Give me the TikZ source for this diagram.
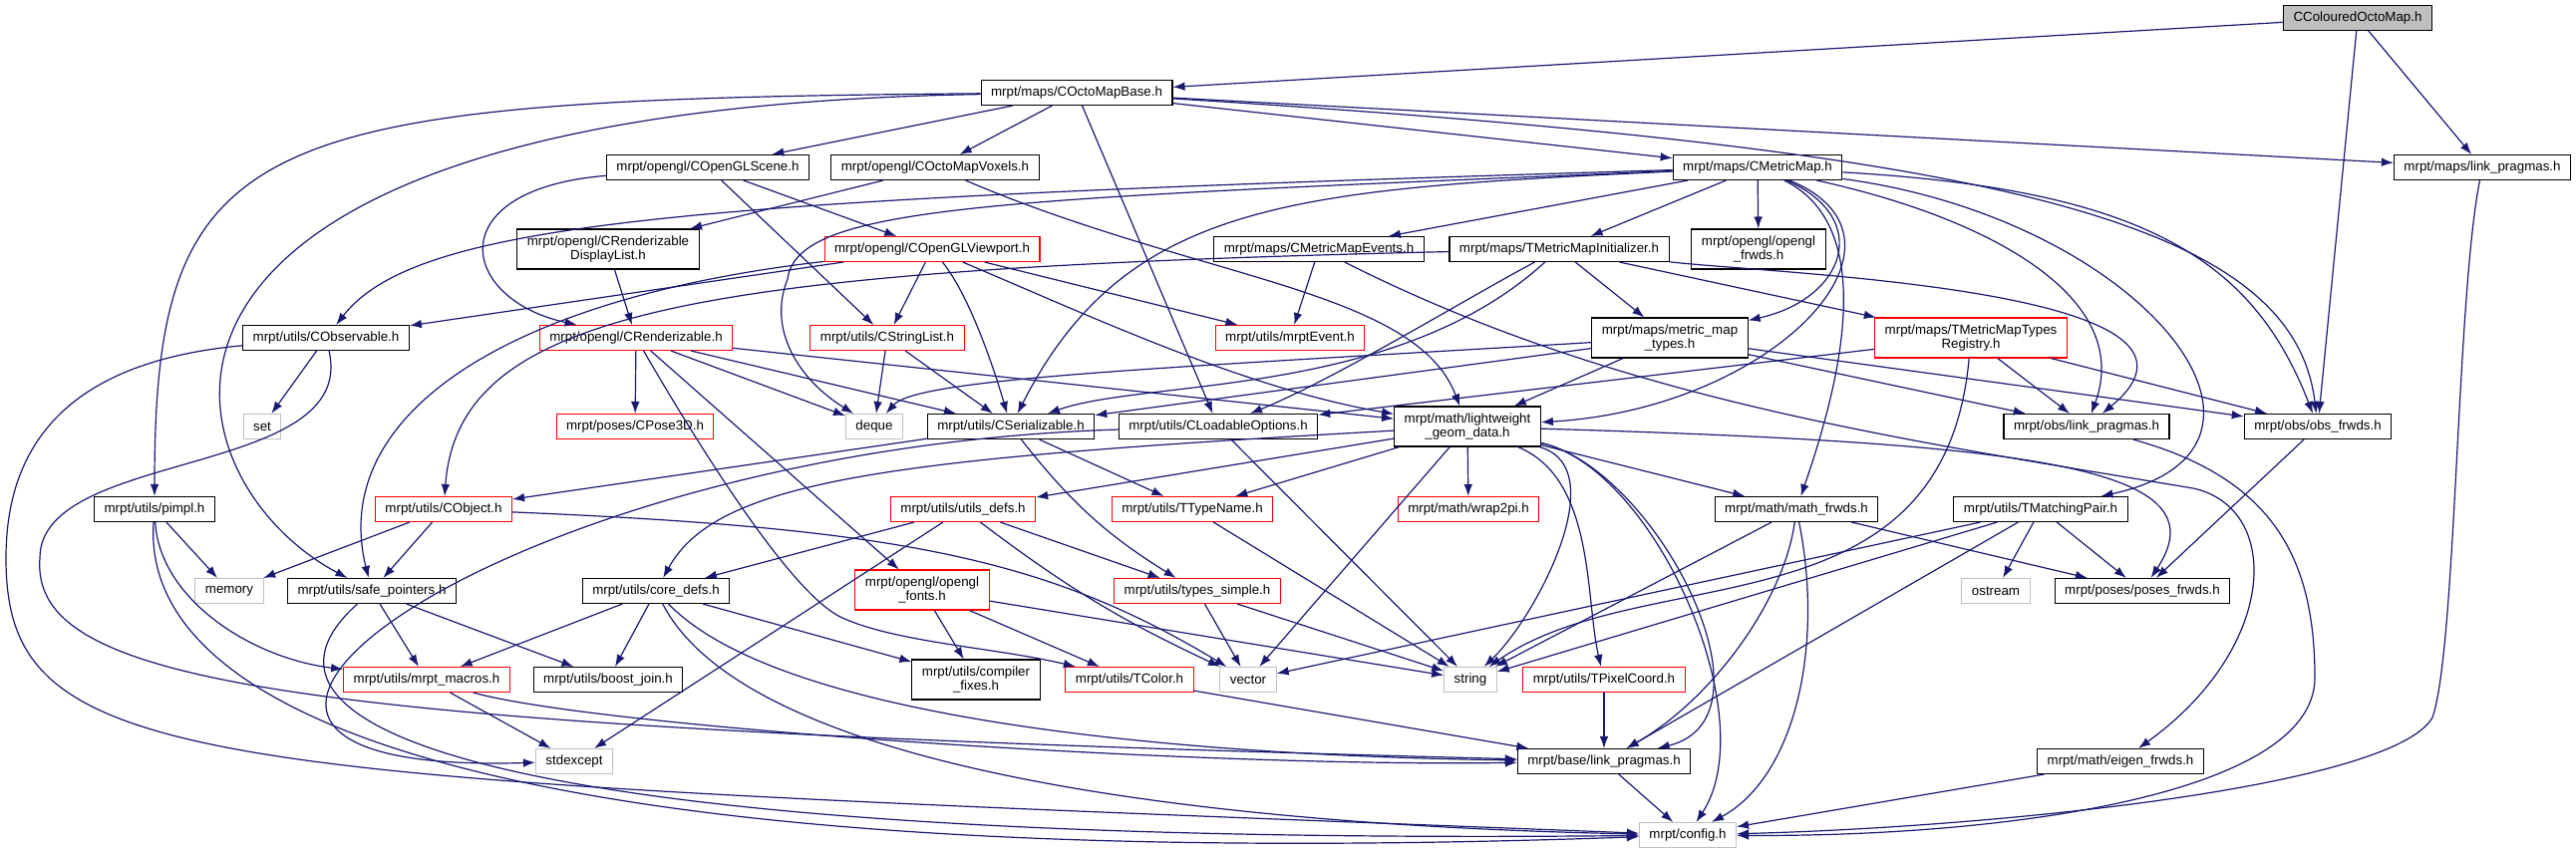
\documentclass[tikz,border=0pt]{standalone}
\usepackage{fontspec}
\setmainfont{Liberation Sans}
\usepackage{tikz}
\usetikzlibrary{arrows.meta,shapes}
\definecolor{edgeblue}{HTML}{191970}
\definecolor{sysgray}{HTML}{BFBFBF}
\tikzstyle{file}=[draw=black,fill=white,line width=0.8pt,minimum height=18.75pt,inner xsep=7.5pt,inner ysep=1pt,align=center,font=\fontsize{10}{10.5}\selectfont]
\tikzstyle{tall}=[minimum height=30pt]
\tikzstyle{redfile}=[file,draw=red]
\tikzstyle{sysfile}=[file,draw=sysgray]
\tikzstyle{rootfile}=[file,fill=sysgray]
\tikzstyle{edge}=[draw=edgeblue,line width=0.9pt,-{Latex[length=9pt,width=6.5pt]}]

\begin{document}
\begin{tikzpicture}[x=0.75pt,y=0.75pt]
        \useasboundingbox (0,0) rectangle (2584,-857);
        \node[rootfile] (ccom) at (2365,-18) {CColouredOctoMap.h};
        \node[file] (base) at (1080,-93) {mrpt/maps/COctoMapBase.h};
        \node[file] (scene) at (710,-168) {mrpt/opengl/COpenGLScene.h};
        \node[file] (voxels) at (938,-168) {mrpt/opengl/COctoMapVoxels.h};
        \node[file] (cmm) at (1763,-168) {mrpt/maps/CMetricMap.h};
        \node[file] (mlink) at (2490,-168) {mrpt/maps/link\_pragmas.h};
        \node[file,tall] (dlist) at (610,-250) {mrpt/opengl/CRenderizable\\DisplayList.h};
        \node[redfile] (viewport) at (935,-250) {mrpt/opengl/COpenGLViewport.h};
        \node[file] (events) at (1323,-250) {mrpt/maps/CMetricMapEvents.h};
        \node[file] (tinit) at (1564,-250) {mrpt/maps/TMetricMapInitializer.h};
        \node[file,tall] (oglfrwds) at (1764,-250) {mrpt/opengl/opengl\\\_frwds.h};
        \node[file] (observable) at (327,-339) {mrpt/utils/CObservable.h};
        \node[redfile] (renderizable) at (638,-339) {mrpt/opengl/CRenderizable.h};
        \node[redfile] (strlist) at (890,-339) {mrpt/utils/CStringList.h};
        \node[redfile] (mevent) at (1294,-339) {mrpt/utils/mrptEvent.h};
        \node[file,tall] (mmtypes) at (1675,-339) {mrpt/maps/metric\_map\\\_types.h};
        \node[redfile,tall] (registry) at (1977,-339) {mrpt/maps/TMetricMapTypes\\Registry.h};
        \node[sysfile] (set) at (263,-428) {set};
        \node[redfile] (pose3d) at (637,-428) {mrpt/poses/CPose3D.h};
        \node[sysfile] (deque) at (877,-428) {deque};
        \node[file] (serializable) at (1014,-428) {mrpt/utils/CSerializable.h};
        \node[file] (loadable) at (1222,-428) {mrpt/utils/CLoadableOptions.h};
        \node[file,tall] (geom) at (1472,-428) {mrpt/math/lightweight\\\_geom\_data.h};
        \node[file] (olink) at (2093,-428) {mrpt/obs/link\_pragmas.h};
        \node[file] (obsfrwds) at (2325,-428) {mrpt/obs/obs\_frwds.h};
        \node[file] (pimpl) at (155,-511) {mrpt/utils/pimpl.h};
        \node[redfile] (cobject) at (445,-511) {mrpt/utils/CObject.h};
        \node[redfile] (utilsdefs) at (966,-511) {mrpt/utils/utils\_defs.h};
        \node[redfile] (ttypename) at (1196,-511) {mrpt/utils/TTypeName.h};
        \node[redfile] (wrap2pi) at (1473,-511) {mrpt/math/wrap2pi.h};
        \node[file] (mathfrwds) at (1802,-511) {mrpt/math/math\_frwds.h};
        \node[file] (tmatch) at (2047,-511) {mrpt/utils/TMatchingPair.h};
        \node[sysfile] (memory) at (230,-593) {memory};
        \node[file] (safeptr) at (373,-593) {mrpt/utils/safe\_pointers.h};
        \node[file] (coredefs) at (658,-593) {mrpt/utils/core\_defs.h};
        \node[redfile,tall] (fonts) at (925,-592) {mrpt/opengl/opengl\\\_fonts.h};
        \node[redfile] (typessimple) at (1201,-593) {mrpt/utils/types\_simple.h};
        \node[sysfile] (ostream) at (2002,-593) {ostream};
        \node[file] (posesfrwds) at (2149,-593) {mrpt/poses/poses\_frwds.h};
        \node[redfile] (macros) at (428,-682) {mrpt/utils/mrpt\_macros.h};
        \node[file] (boostjoin) at (610,-682) {mrpt/utils/boost\_join.h};
        \node[file,tall] (compfix) at (979,-682) {mrpt/utils/compiler\\\_fixes.h};
        \node[redfile] (tcolor) at (1133,-682) {mrpt/utils/TColor.h};
        \node[sysfile] (vector) at (1252,-682) {vector};
        \node[sysfile] (string) at (1475,-682) {string};
        \node[redfile] (pixcoord) at (1609,-682) {mrpt/utils/TPixelCoord.h};
        \node[sysfile] (stdexcept) at (576,-764) {stdexcept};
        \node[file] (blink) at (1609,-764) {mrpt/base/link\_pragmas.h};
        \node[file] (eigenfrwds) at (2127,-764) {mrpt/math/eigen\_frwds.h};
        \node[sysfile] (config) at (1693,-838) {mrpt/config.h};

        \draw[edge] (ccom) to (base);
        \draw[edge] (ccom) to (mlink);
        \draw[edge] (ccom) to (obsfrwds);

        \draw[edge] (base) to (scene);
        \draw[edge] (base) to (voxels);
        \draw[edge] (base) to (cmm);
        \draw[edge] (base) to (mlink);
        \draw[edge] (base) to (loadable);
        \draw[edge] (base) .. controls (250,-100) and (155,-130) .. (pimpl);
        \draw[edge] (base) .. controls (60,-110) and (160,-480) .. (safeptr);
        \draw[edge] (base) .. controls (2000,-150) and (2300,-220) .. (obsfrwds);

        \draw[edge] (scene) .. controls (440,-190) and (460,-300) .. (renderizable);
        \draw[edge] (scene) to (strlist);
        \draw[edge] (scene) to (viewport);
        \draw[edge] (voxels) to (dlist);
        \draw[edge] (voxels) .. controls (1200,-280) and (1420,-290) .. (geom);
        \draw[edge] (dlist) to (renderizable);

        \draw[edge] (cmm) to (events);
        \draw[edge] (cmm) to (tinit);
        \draw[edge] (cmm) to (oglfrwds);
        \draw[edge] (cmm) .. controls (1880,-220) and (1850,-300) .. (mmtypes);
        \draw[edge] (cmm) .. controls (1940,-240) and (1780,-410) .. (geom);
        \draw[edge] (cmm) .. controls (1890,-230) and (1840,-400) .. (mathfrwds);
        \draw[edge] (cmm) .. controls (2150,-220) and (2330,-450) .. (tmatch);
        \draw[edge] (cmm) .. controls (2000,-220) and (2140,-300) .. (olink);
        \draw[edge] (cmm) .. controls (2150,-190) and (2260,-260) .. (obsfrwds);
        \draw[edge] (cmm) .. controls (1300,-190) and (1130,-200) .. (serializable);
        \draw[edge] (cmm) .. controls (1000,-200) and (800,-205) .. (790,-280) .. controls (770,-330) and (800,-380) .. (deque);
        \draw[edge] (cmm) .. controls (700,-200) and (420,-220) .. (observable);

        \draw[edge] (viewport) to (observable);
        \draw[edge] (viewport) .. controls (500,-300) and (330,-420) .. (safeptr);
        \draw[edge] (viewport) to (strlist);
        \draw[edge] (viewport) .. controls (975,-300) and (1000,-380) .. (serializable);
        \draw[edge] (viewport) to (mevent);
        \draw[edge] (viewport) .. controls (1100,-320) and (1250,-390) .. (geom);

        \draw[edge] (events) to (mevent);
        \draw[edge] (events) .. controls (1620,-400) and (1900,-440) .. (2200,-490) .. controls (2290,-510) and (2285,-650) .. (eigenfrwds);

        \draw[edge] (tinit) to (mmtypes);
        \draw[edge] (tinit) to (registry);
        \draw[edge] (tinit) .. controls (700,-270) and (460,-310) .. (cobject);
        \draw[edge] (tinit) .. controls (1470,-300) and (1340,-380) .. (loadable);
        \draw[edge] (tinit) .. controls (1400,-400) and (1150,-380) .. (serializable);
        \draw[edge] (tinit) .. controls (1780,-275) and (2260,-290) .. (olink);

        \draw[edge] (mmtypes) to (geom);
        \draw[edge] (mmtypes) to (olink);
        \draw[edge] (mmtypes) to (obsfrwds);
        \draw[edge] (mmtypes) to (serializable);
        \draw[edge] (mmtypes) .. controls (1150,-370) and (920,-380) .. (deque);

        \draw[edge] (registry) to (olink);
        \draw[edge] (registry) to (obsfrwds);
        \draw[edge] (registry) to (loadable);
        \draw[edge] (registry) .. controls (1950,-640) and (1650,-560) .. (string);

        \draw[edge] (observable) to (set);
        \draw[edge] (observable) .. controls (100,-360) and (6,-420) .. (6,-560) .. controls (6,-780) and (200,-780) .. (config);
        \draw[edge] (observable) .. controls (360,-480) and (40,-450) .. (40,-560) .. controls (30,-690) and (300,-730) .. (blink);

        \draw[edge] (renderizable) to (pose3d);
        \draw[edge] (renderizable) to (deque);
        \draw[edge] (renderizable) to (serializable);
        \draw[edge] (renderizable) to (geom);
        \draw[edge] (renderizable) to (fonts);
        \draw[edge] (renderizable) .. controls (720,-480) and (800,-600) .. (845,-620) .. controls (900,-645) and (1000,-650) .. (tcolor);

        \draw[edge] (strlist) to (deque);
        \draw[edge] (strlist) to (serializable);

        \draw[edge] (serializable) to (cobject);
        \draw[edge] (serializable) to (ttypename);
        \draw[edge] (serializable) to[bend right=10] (typessimple);

        \draw[edge] (loadable) to (string);
        \draw[edge] (loadable) .. controls (500,-450) and (50,-780) .. (stdexcept);

        \draw[edge] (geom) to (utilsdefs);
        \draw[edge] (geom) to (ttypename);
        \draw[edge] (geom) to (wrap2pi);
        \draw[edge] (geom) to (mathfrwds);
        \draw[edge] (geom) to (vector);
        \draw[edge] (geom) .. controls (900,-460) and (720,-480) .. (coredefs);
        \draw[edge] (geom) .. controls (1620,-470) and (1540,-620) .. (string);
        \draw[edge] (geom) .. controls (1600,-480) and (1590,-600) .. (pixcoord);
        \draw[edge] (geom) .. controls (1660,-470) and (1790,-720) .. (blink);
        \draw[edge] (geom) .. controls (1660,-470) and (1770,-720) .. (config);
        \draw[edge] (geom) .. controls (2050,-445) and (2230,-470) .. (posesfrwds);

        \draw[edge] (cobject) to (memory);
        \draw[edge] (cobject) to (safeptr);
        \draw[edge] (cobject) .. controls (900,-530) and (1050,-560) .. (vector);

        \draw[edge] (utilsdefs) to (coredefs);
        \draw[edge] (utilsdefs) to (typessimple);
        \draw[edge] (utilsdefs) to[bend right=6] (vector);
        \draw[edge] (utilsdefs) to (stdexcept);
        \draw[edge] (ttypename) to (string);

        \draw[edge] (mathfrwds) to (string);
        \draw[edge] (mathfrwds) to (posesfrwds);
        \draw[edge] (mathfrwds) .. controls (1790,-600) and (1720,-700) .. (blink);
        \draw[edge] (mathfrwds) .. controls (1830,-650) and (1800,-780) .. (config);

        \draw[edge] (tmatch) to (ostream);
        \draw[edge] (tmatch) to (posesfrwds);
        \draw[edge] (tmatch) to (string);
        \draw[edge] (tmatch) to (vector);
        \draw[edge] (tmatch) to (blink);
        \draw[edge] (obsfrwds) to (posesfrwds);

        \draw[edge] (pimpl) to (memory);
        \draw[edge] (pimpl) .. controls (160,-600) and (250,-660) .. (macros);
        \draw[edge] (pimpl) .. controls (140,-720) and (500,-880) .. (config);

        \draw[edge] (safeptr) to (macros);
        \draw[edge] (safeptr) to (boostjoin);
        \draw[edge] (safeptr) .. controls (220,-730) and (480,-850) .. (config);

        \draw[edge] (coredefs) to (macros);
        \draw[edge] (coredefs) to (boostjoin);
        \draw[edge] (coredefs) to (compfix);
        \draw[edge] (coredefs) .. controls (800,-740) and (1300,-760) .. (blink);
        \draw[edge] (coredefs) .. controls (760,-790) and (1300,-830) .. (config);

        \draw[edge] (fonts) to (compfix);
        \draw[edge] (fonts) to (tcolor);
        \draw[edge] (fonts) to (string);
        \draw[edge] (typessimple) to (vector);
        \draw[edge] (typessimple) to (string);

        \draw[edge] (macros) to (stdexcept);
        \draw[edge] (macros) .. controls (600,-730) and (1200,-770) .. (blink);
        \draw[edge] (tcolor) to (blink);
        \draw[edge] (pixcoord) to (blink);
        \draw[edge] (blink) to (config);
        \draw[edge] (eigenfrwds) to (config);

        \draw[edge] (olink) .. controls (2280,-480) and (2322,-560) .. (2322,-680) .. controls (2322,-800) and (2000,-840) .. (config);
        \draw[edge] (mlink) .. controls (2464,-300) and (2464,-650) .. (2440,-720) .. controls (2400,-790) and (2000,-830) .. (config);
      \end{tikzpicture}
\end{document}
